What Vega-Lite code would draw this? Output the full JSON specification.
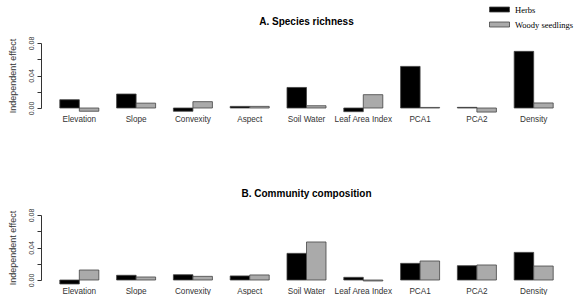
{
  "$schema": "https://vega.github.io/schema/vega-lite/v6.json",
  "padding": {"left": 8, "top": 4, "right": 0, "bottom": 0},
  "background": "white",
  "datasets": {
    "effects": [
      {"panel": "A", "variable": "Elevation", "group": "Herbs", "value": 0.0102},
      {"panel": "A", "variable": "Elevation", "group": "Woody seedlings", "value": -0.0040},
      {"panel": "A", "variable": "Slope", "group": "Herbs", "value": 0.0172},
      {"panel": "A", "variable": "Slope", "group": "Woody seedlings", "value": 0.0060},
      {"panel": "A", "variable": "Convexity", "group": "Herbs", "value": -0.0040},
      {"panel": "A", "variable": "Convexity", "group": "Woody seedlings", "value": 0.0078},
      {"panel": "A", "variable": "Aspect", "group": "Herbs", "value": 0.0020},
      {"panel": "A", "variable": "Aspect", "group": "Woody seedlings", "value": 0.0020},
      {"panel": "A", "variable": "Soil Water", "group": "Herbs", "value": 0.0253},
      {"panel": "A", "variable": "Soil Water", "group": "Woody seedlings", "value": 0.0028},
      {"panel": "A", "variable": "Leaf Area Index", "group": "Herbs", "value": -0.0045},
      {"panel": "A", "variable": "Leaf Area Index", "group": "Woody seedlings", "value": 0.0164},
      {"panel": "A", "variable": "PCA1", "group": "Herbs", "value": 0.0512},
      {"panel": "A", "variable": "PCA1", "group": "Woody seedlings", "value": 0.0007},
      {"panel": "A", "variable": "PCA2", "group": "Herbs", "value": 0.0008},
      {"panel": "A", "variable": "PCA2", "group": "Woody seedlings", "value": -0.0050},
      {"panel": "A", "variable": "Density", "group": "Herbs", "value": 0.0697},
      {"panel": "A", "variable": "Density", "group": "Woody seedlings", "value": 0.0062},
      {"panel": "B", "variable": "Elevation", "group": "Herbs", "value": -0.0049},
      {"panel": "B", "variable": "Elevation", "group": "Woody seedlings", "value": 0.0123},
      {"panel": "B", "variable": "Slope", "group": "Herbs", "value": 0.0058},
      {"panel": "B", "variable": "Slope", "group": "Woody seedlings", "value": 0.0037},
      {"panel": "B", "variable": "Convexity", "group": "Herbs", "value": 0.0065},
      {"panel": "B", "variable": "Convexity", "group": "Woody seedlings", "value": 0.0045},
      {"panel": "B", "variable": "Aspect", "group": "Herbs", "value": 0.0050},
      {"panel": "B", "variable": "Aspect", "group": "Woody seedlings", "value": 0.0062},
      {"panel": "B", "variable": "Soil Water", "group": "Herbs", "value": 0.0328},
      {"panel": "B", "variable": "Soil Water", "group": "Woody seedlings", "value": 0.0468},
      {"panel": "B", "variable": "Leaf Area Index", "group": "Herbs", "value": 0.0033},
      {"panel": "B", "variable": "Leaf Area Index", "group": "Woody seedlings", "value": -0.0012},
      {"panel": "B", "variable": "PCA1", "group": "Herbs", "value": 0.0205},
      {"panel": "B", "variable": "PCA1", "group": "Woody seedlings", "value": 0.0234},
      {"panel": "B", "variable": "PCA2", "group": "Herbs", "value": 0.0176},
      {"panel": "B", "variable": "PCA2", "group": "Woody seedlings", "value": 0.0185},
      {"panel": "B", "variable": "Density", "group": "Herbs", "value": 0.0340},
      {"panel": "B", "variable": "Density", "group": "Woody seedlings", "value": 0.0172}
    ]
  },
  "data": {"name": "effects"},
  "spacing": 66,
  "config": {
    "view": {"stroke": null},
    "font": "Liberation Sans",
    "title": {"fontSize": 10, "fontWeight": "bold", "font": "Liberation Sans", "color": "#000", "offset": 9, "anchor": "middle"},
    "axis": {"grid": false},
    "legend": {"padding": 0}
  },
  "vconcat": [
    {
      "title": "A. Species richness",
      "width": 511,
      "height": 65,
      "transform": [{"filter": "datum.panel == 'A'"}],
      "mark": {"type": "bar", "stroke": "#444", "strokeWidth": 0.8},
      "encoding": {
        "x": {"field": "variable", "type": "nominal", "sort": ["Elevation", "Slope", "Convexity", "Aspect", "Soil Water", "Leaf Area Index", "PCA1", "PCA2", "Density"],
          "scale": {"paddingInner": 0.313, "paddingOuter": 0.155},
          "axis": {"title": null, "domain": false, "ticks": false, "labelAngle": 0, "labelFontSize": 8.2, "labelColor": "#333", "labelPadding": 7}},
        "xOffset": {"field": "group", "type": "nominal", "scale": {"paddingInner": 0, "paddingOuter": 0}},
        "y": {"field": "value", "type": "quantitative",
          "scale": {"domain": [0, 0.08], "nice": false, "zero": true},
          "axis": {"title": "Independent effect", "titleFontSize": 9, "titleFontWeight": "normal", "titleColor": "#333", "titlePadding": 10,
            "values": [0, 0.02, 0.04, 0.06, 0.08], "format": ".2f",
            "labelExpr": "indexof(['0.00','0.04','0.08'], datum.label) >= 0 ? datum.label : ''",
            "labelAngle": -90, "labelAlign": "center", "labelBaseline": "bottom", "labelFontSize": 7, "labelColor": "#333", "labelPadding": 2.5,
            "tickSize": 4, "tickColor": "#333", "domainColor": "#333", "offset": 10}},
        "color": {"field": "group", "type": "nominal",
          "scale": {"domain": ["Herbs", "Woody seedlings"], "range": ["#000000", "#aaaaaa"]},
          "legend": {"title": null, "orient": "none", "legendX": 443, "legendY": -39,
            "symbolType": "M-2,-0.5L2,-0.5L2,0.5L-2,0.5Z", "symbolSize": 100, "symbolStrokeColor": "#444", "symbolStrokeWidth": 0.8,
            "labelFont": "Liberation Serif", "labelFontSize": 8.5, "labelColor": "#000", "rowPadding": 5, "labelOffset": 10}}
      }
    },
    {
      "title": "B. Community composition",
      "width": 511,
      "height": 65,
      "transform": [{"filter": "datum.panel == 'B'"}],
      "mark": {"type": "bar", "stroke": "#444", "strokeWidth": 0.8},
      "encoding": {
        "x": {"field": "variable", "type": "nominal", "sort": ["Elevation", "Slope", "Convexity", "Aspect", "Soil Water", "Leaf Area Index", "PCA1", "PCA2", "Density"],
          "scale": {"paddingInner": 0.313, "paddingOuter": 0.155},
          "axis": {"title": null, "domain": false, "ticks": false, "labelAngle": 0, "labelFontSize": 8.2, "labelColor": "#333", "labelPadding": 7}},
        "xOffset": {"field": "group", "type": "nominal", "scale": {"paddingInner": 0, "paddingOuter": 0}},
        "y": {"field": "value", "type": "quantitative",
          "scale": {"domain": [0, 0.08], "nice": false, "zero": true},
          "axis": {"title": "Independent effect", "titleFontSize": 9, "titleFontWeight": "normal", "titleColor": "#333", "titlePadding": 10,
            "values": [0, 0.02, 0.04, 0.06, 0.08], "format": ".2f",
            "labelExpr": "indexof(['0.00','0.04','0.08'], datum.label) >= 0 ? datum.label : ''",
            "labelAngle": -90, "labelAlign": "center", "labelBaseline": "bottom", "labelFontSize": 7, "labelColor": "#333", "labelPadding": 2.5,
            "tickSize": 4, "tickColor": "#333", "domainColor": "#333", "offset": 10}},
        "color": {"field": "group", "type": "nominal",
          "scale": {"domain": ["Herbs", "Woody seedlings"], "range": ["#000000", "#aaaaaa"]},
          "legend": null}
      }
    }
  ]
}
